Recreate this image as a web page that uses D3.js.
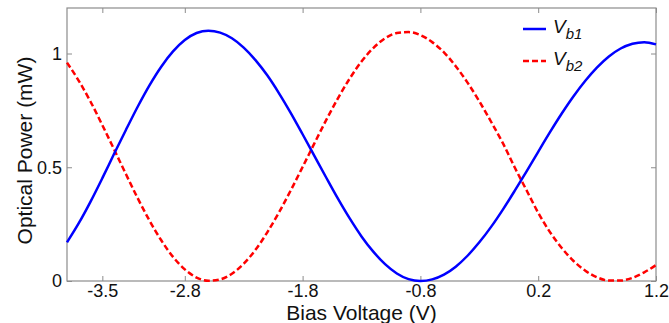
<!DOCTYPE html>
<html>
<head>
<meta charset="utf-8">
<script src="https://cdn.jsdelivr.net/npm/d3@7"></script>
<style>
    html, body { margin: 0; padding: 0; background: #ffffff; }
    svg { display: block; font-family: "Liberation Sans", Arial, Helvetica, sans-serif; }
</style>
</head>
<body>
<div id="chart"></div>
<script>
// Bias voltage samples (V)
const voltage = [
    -3.8, -3.7, -3.6, -3.5, -3.4, -3.3, -3.2, -3.1, -3.0, -2.9,
    -2.8, -2.7, -2.6, -2.5, -2.4, -2.3, -2.2, -2.1, -2.0, -1.9,
    -1.8, -1.7, -1.6, -1.5, -1.4, -1.3, -1.2, -1.1, -1.0, -0.9,
    -0.8, -0.7, -0.6, -0.5, -0.4, -0.3, -0.2, -0.1, 0.0, 0.1,
    0.2, 0.3, 0.4, 0.5, 0.6, 0.7, 0.8, 0.9, 1.0, 1.1, 1.2
];

// Optical power (mW)
const powerVb1 = [
    0.170, 0.254, 0.349, 0.452, 0.559, 0.664, 0.766, 0.860, 0.942, 1.009,
    1.059, 1.090, 1.100, 1.092, 1.067, 1.026, 0.971, 0.904, 0.825, 0.738,
    0.645, 0.550, 0.455, 0.362, 0.275, 0.196, 0.129, 0.074, 0.033, 0.008,
    0.000, 0.007, 0.028, 0.063, 0.111, 0.170, 0.238, 0.314, 0.396, 0.481,
    0.568, 0.654, 0.736, 0.812, 0.880, 0.939, 0.987, 1.022, 1.043, 1.050, 1.040
];

const powerVb2 = [
    0.960, 0.880, 0.788, 0.685, 0.578, 0.470, 0.364, 0.266, 0.179, 0.106,
    0.051, 0.015, 0.001, 0.007, 0.032, 0.076, 0.137, 0.214, 0.302, 0.399,
    0.501, 0.605, 0.707, 0.803, 0.890, 0.965, 1.024, 1.067, 1.090, 1.094,
    1.081, 1.050, 1.005, 0.944, 0.872, 0.790, 0.700, 0.606, 0.500, 0.400,
    0.300, 0.215, 0.145, 0.088, 0.045, 0.016, 0.002, 0.002, 0.014, 0.038, 0.070
];

const xTicks = [-3.5, -2.8, -1.8, -0.8, 0.2, 1.2];
const xTickLabels = ['-3.5', '-2.8', '-1.8', '-0.8', '0.2', '1.2'];
const yTicks = [0, 0.5, 1];
const yTickLabels = ['0', '0.5', '1'];

const width = 669;
const height = 323;
const margin = { top: 8, right: 13, bottom: 42, left: 67 };
const plotW = width - margin.left - margin.right;
const plotH = height - margin.top - margin.bottom;

const svg = d3.select('#chart')
    .append('svg')
    .attr('width', width)
    .attr('height', height);

const g = svg.append('g')
    .attr('transform', `translate(${margin.left},${margin.top})`);

const x = d3.scaleLinear().domain([-3.8, 1.2]).range([0, plotW]);
const y = d3.scaleLinear().domain([0, 1.2]).range([plotH, 0]);

const axisColor = '#8c8c8c';

// axes (inward ticks, MATLAB style)
g.append('g')
    .attr('transform', `translate(0,${plotH})`)
    .call(d3.axisBottom(x)
        .tickValues(xTicks)
        .tickFormat((d, i) => xTickLabels[i])
        .tickSizeInner(-5)
        .tickSizeOuter(0)
        .tickPadding(3));

g.append('g')
    .call(d3.axisLeft(y)
        .tickValues(yTicks)
        .tickFormat((d, i) => yTickLabels[i])
        .tickSizeInner(-5)
        .tickSizeOuter(0)
        .tickPadding(5));

// mirrored ticks on top and right
g.append('g')
    .call(d3.axisTop(x).tickValues(xTicks).tickFormat('').tickSizeInner(-5).tickSizeOuter(0));

g.append('g')
    .attr('transform', `translate(${plotW},0)`)
    .call(d3.axisRight(y).tickValues(yTicks).tickFormat('').tickSizeInner(-5).tickSizeOuter(0));

g.selectAll('.domain').remove();
g.selectAll('.tick line').attr('stroke', axisColor).attr('stroke-width', 1);
g.selectAll('.tick text')
    .attr('fill', '#111')
    .style('font-size', '18px');

// box
g.append('rect')
    .attr('x', 0)
    .attr('y', 0)
    .attr('width', plotW)
    .attr('height', plotH)
    .attr('fill', 'none')
    .attr('stroke', axisColor)
    .attr('stroke-width', 1.2);

// curves
const line = d3.line()
    .x(d => x(d[0]))
    .y(d => y(d[1]))
    .curve(d3.curveMonotoneX);

g.append('path')
    .datum(voltage.map((v, i) => [v, powerVb2[i]]))
    .attr('d', line)
    .attr('fill', 'none')
    .attr('stroke', '#ff0000')
    .attr('stroke-width', 2.5)
    .attr('stroke-dasharray', '6,3');

g.append('path')
    .datum(voltage.map((v, i) => [v, powerVb1[i]]))
    .attr('d', line)
    .attr('fill', 'none')
    .attr('stroke', '#0000ff')
    .attr('stroke-width', 2.5);

// axis labels
svg.append('text')
    .attr('x', margin.left + plotW / 2)
    .attr('y', 320)
    .attr('text-anchor', 'middle')
    .attr('fill', '#111')
    .style('font-size', '21px')
    .text('Bias Voltage (V)');

svg.append('text')
    .attr('transform', `translate(32,${margin.top + plotH / 2 + 6}) rotate(-90)`)
    .attr('text-anchor', 'middle')
    .attr('fill', '#111')
    .style('font-size', '21px')
    .text('Optical Power (mW)');

// legend (no box)
const legend = [
    { name: 'b1', color: '#0000ff', dash: null },
    { name: 'b2', color: '#ff0000', dash: '6,3' }
];

const legendG = svg.append('g').attr('transform', 'translate(523,29)');
legend.forEach((d, i) => {
    const row = legendG.append('g').attr('transform', `translate(0,${i * 32})`);
    row.append('line')
        .attr('x1', 0).attr('x2', 23)
        .attr('y1', 0).attr('y2', 0)
        .attr('stroke', d.color)
        .attr('stroke-width', 2.5)
        .attr('stroke-dasharray', d.dash);
    const t = row.append('text')
        .attr('x', 30)
        .attr('y', 4)
        .attr('fill', '#111')
        .style('font-size', '19px')
        .style('font-style', 'italic');
    t.append('tspan').text('V');
    t.append('tspan').attr('dy', 6).style('font-size', '15px').text(d.name);
});
</script>
</body>
</html>
